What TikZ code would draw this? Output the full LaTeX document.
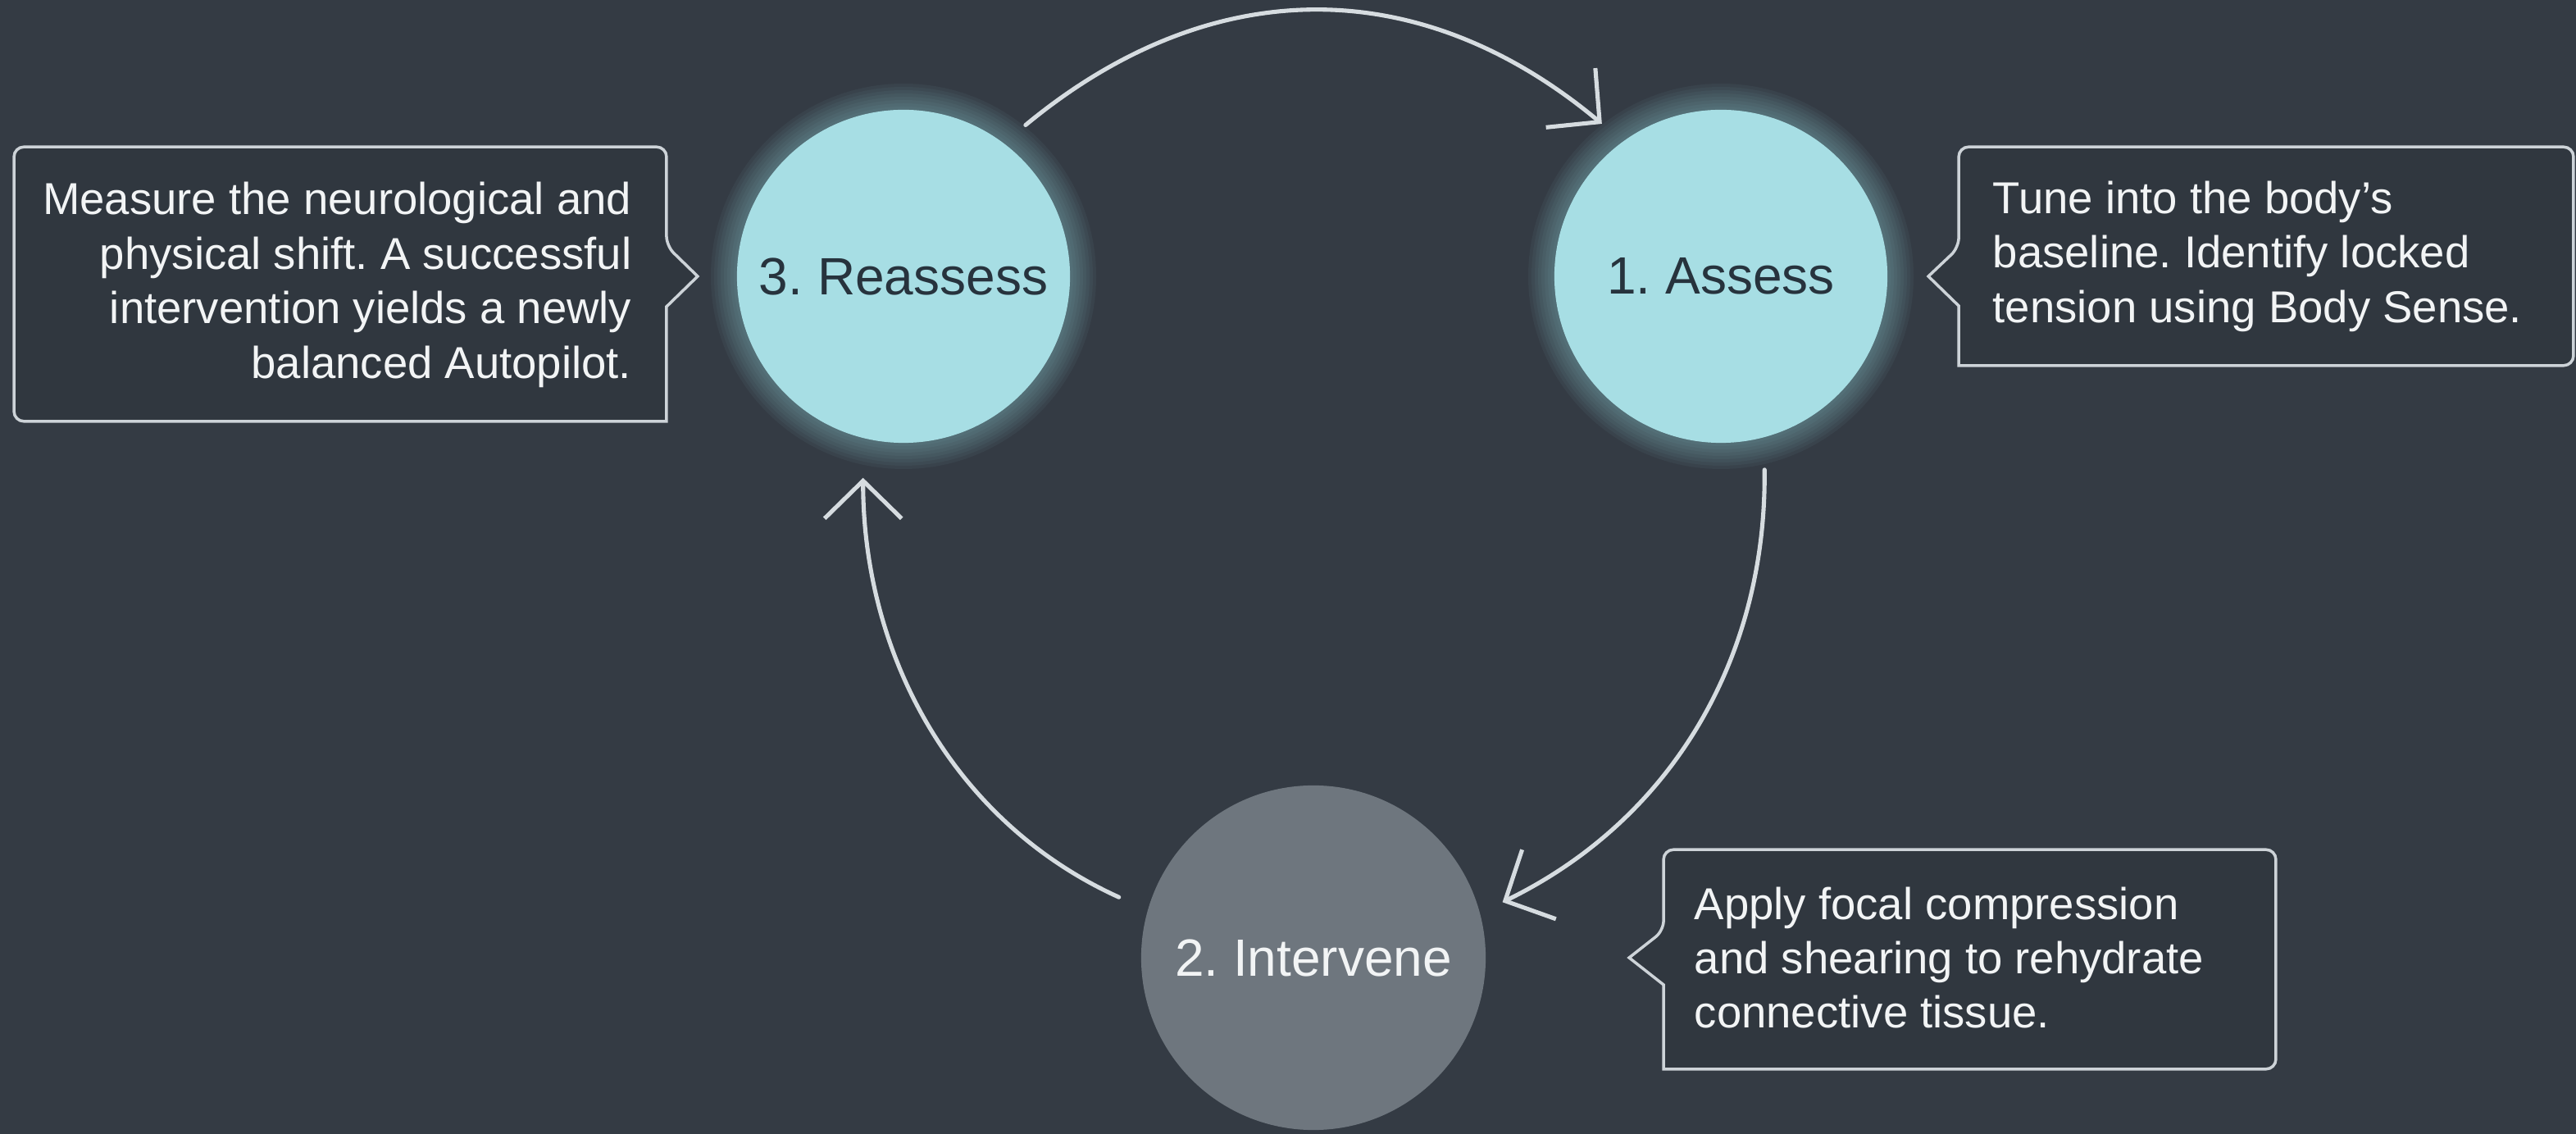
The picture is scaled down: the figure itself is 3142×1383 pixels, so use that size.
\documentclass[tikz,border=0pt]{standalone}
\usepackage{fontspec}
\setmainfont{Liberation Sans}
\usetikzlibrary{arrows.meta,calc}
\frenchspacing
\definecolor{bgc}{HTML}{343B44}
\definecolor{boxc}{HTML}{30373F}
\definecolor{linec}{HTML}{CDD3D8}
\definecolor{tealc}{HTML}{A7DEE4}
\definecolor{glowc}{HTML}{9ADCE3}
\definecolor{greyc}{HTML}{6E767E}
\definecolor{darktxt}{HTML}{27333D}
\definecolor{lighttxt}{HTML}{F2F4F5}
\definecolor{arrowc}{HTML}{D6DCE0}
\tikzset{
  stagecircle/.style={circle, inner sep=0pt, font=\fontsize{18.2}{22}\selectfont},
  notebox/.style={rectangle, inner sep=0pt},
  notetext/.style={inner sep=0pt, text=lighttxt, font=\fontsize{15.5}{18.9}\selectfont},
  outline/.style={draw=linec, line width=1pt, fill=boxc},
  cyclearrow/.style={draw=arrowc, line width=1.45pt, line cap=round,
    -{Straight Barb[length=0.46cm,width=0.94cm,line width=1.45pt]}},
}
\begin{document}
\begin{tikzpicture}[x=0.01cm,y=0.01cm]
\useasboundingbox (0,0) rectangle (3142,-1383);
\fill[bgc] (0,0) rectangle (3142,-1383);

\coordinate (c3) at (1102,-337);
\coordinate (c1) at (2099,-337);
\coordinate (c2) at (1602,-1168);

% soft glow round the teal circles
\foreach \k in {1,...,8}{
  \fill[glowc, opacity=0.05] (c3) circle[radius=203+4*\k];
  \fill[glowc, opacity=0.05] (c1) circle[radius=203+4*\k];
}

% stage circles
\node[stagecircle, fill=tealc, text=darktxt, minimum size=4.06cm] (reassess) at (c3) {3. Reassess};
\node[stagecircle, fill=tealc, text=darktxt, minimum size=4.06cm] (assess) at (c1) {1. Assess};
\node[stagecircle, fill=greyc, text=lighttxt, minimum size=4.2cm] (intervene) at (c2) {2. Intervene};

% note boxes
\node[notebox, minimum width=7.94cm, minimum height=3.33cm] (note3) at (415,-346.5) {};
\node[notebox, minimum width=7.48cm, minimum height=2.65cm] (note1) at (2764,-312.5) {};
\node[notebox, minimum width=7.45cm, minimum height=2.66cm] (note2) at (2402.5,-1170) {};

\draw[outline] (note3.north) [rounded corners=0.12cm] -- (note3.north east)
  -- ($(note3.east |- reassess)+(0,37)$) [sharp corners] -- ($(note3.east |- reassess)+(38,0)$)
  -- ($(note3.east |- reassess)+(0,-37)$) -- (note3.south east) [rounded corners=0.12cm]
  -- (note3.south west) -- (note3.north west) -- cycle;
\draw[outline] (note1.north) [rounded corners=0.12cm] -- (note1.north west)
  -- ($(note1.west |- assess)+(0,35)$) [sharp corners] -- ($(note1.west |- assess)+(-37,0)$)
  -- ($(note1.west |- assess)+(0,-36)$) -- (note1.south west) [rounded corners=0.12cm]
  -- (note1.south east) -- (note1.north east) -- cycle;
\draw[outline] (note2.north) [rounded corners=0.12cm] -- (note2.north west)
  -- ($(note2.west |- intervene)+(0,33)$) [sharp corners] -- ($(note2.west |- intervene)+(-42,0)$)
  -- ($(note2.west |- intervene)+(0,-33)$) -- (note2.south west) [rounded corners=0.12cm]
  -- (note2.south east) -- (note2.north east) -- cycle;

% note texts
\node[notetext, anchor=east, align=right] (note3text) at ($(note3.east)+(-42,-1)$)
  {Measure the neurological and\\ physical shift. A successful\\ intervention yields a newly\\ balanced Autopilot.};
\node[notetext, anchor=west, align=left] (note1text) at ($(note1.west)+(41,0)$)
  {Tune into the body's\\ baseline. Identify locked\\ tension using Body Sense.};
\node[notetext, anchor=west, align=left] (note2text) at ($(note2.west)+(37,2)$)
  {Apply focal compression\\ and shearing to rehydrate\\ connective tissue.};

% cycle arrows
\draw[cyclearrow, shorten <=0.34cm, shorten >=0.33cm] (reassess.53.6) to[out=39.6, in=140.2, looseness=1.1] (assess.126);
\draw[cyclearrow, shorten <=0.39cm, shorten >=0.30cm] (assess.-75.4) to[out=-89.3, in=26] (intervene.15);
\draw[cyclearrow, shorten <=0.38cm, shorten >=0.48cm] (intervene.164.1) to[out=155.6, in=-90] (reassess.256.2);
\end{tikzpicture}
\end{document}
